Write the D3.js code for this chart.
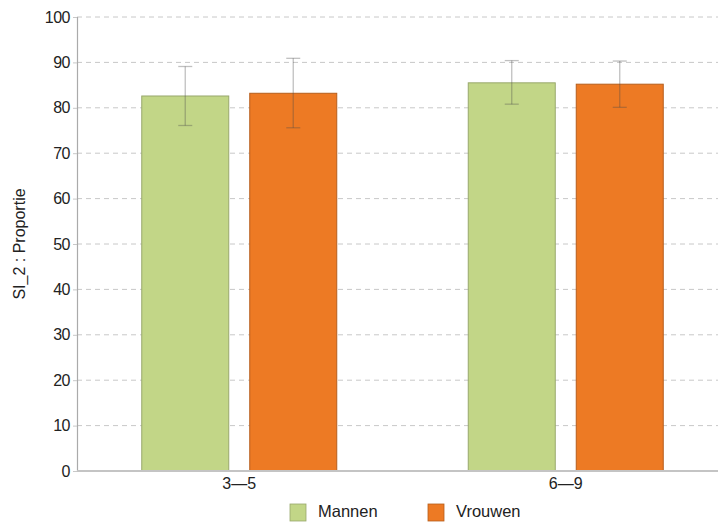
<!DOCTYPE html>
<html><head><meta charset="utf-8">
<script src="https://cdn.jsdelivr.net/npm/d3@7"></script>
<style>body{margin:0;background:#fff}svg{display:block;font-family:"Liberation Sans",Arial,sans-serif}</style>
</head><body>
<svg id="c" width="718" height="522"></svg>
<script>
const categories = ["3—5", "6—9"];
const seriesNames = ["Mannen", "Vrouwen"];
const mannen = [82.6, 85.5];
const vrouwen = [83.2, 85.2];
const mannenLow = [76.1, 80.8];
const mannenHigh = [89.1, 90.4];
const vrouwenLow = [75.6, 80.1];
const vrouwenHigh = [90.9, 90.3];
const yTicks = [0,10,20,30,40,50,60,70,80,90,100];
const yLabel = "SI_2 : Proportie";

const fills = ["#c2d687", "#ed7a24"];
const strokes = ["#98a86c", "#b65e1c"];

const svg = d3.select("#c");
const x0 = d3.scaleBand().domain(categories).range([76, 729]).paddingInner(0).paddingOuter(0);
const y = d3.scaleLinear().domain([0, 100]).range([471, 17]);
const x1 = d3.scaleBand().domain(seriesNames).range([0, 196]).paddingInner(20/108).paddingOuter(0);

// grid
svg.append("g").selectAll("line").data(yTicks.filter(d => d > 0)).join("line")
  .attr("x1", 77).attr("x2", 718)
  .attr("y1", d => y(d)).attr("y2", d => y(d))
  .attr("stroke", "#c8c8c8").attr("stroke-dasharray", "5,4").attr("stroke-width", 1);

// y axis
const yAxis = svg.append("g").attr("transform", "translate(77,0)")
  .call(d3.axisLeft(y).tickValues(yTicks).tickSize(4).tickPadding(3));
yAxis.select(".domain").attr("stroke", "#aaa").attr("stroke-width", 1.2);
yAxis.selectAll(".tick line").attr("stroke", "#c8c8c8");
yAxis.selectAll("text").attr("font-size", 16).attr("fill", "#222").attr("letter-spacing", "-0.5");

// bars
const data = categories.map((c, i) => ({
  cat: c,
  vals: [
    {s: seriesNames[0], v: mannen[i], lo: mannenLow[i], hi: mannenHigh[i], k: 0},
    {s: seriesNames[1], v: vrouwen[i], lo: vrouwenLow[i], hi: vrouwenHigh[i], k: 1}
  ]
}));
const groups = svg.append("g").selectAll("g").data(data).join("g")
  .attr("transform", d => `translate(${x0(d.cat) + (x0.bandwidth() - 196) / 2},0)`);
groups.selectAll("rect").data(d => d.vals).join("rect")
  .attr("x", d => x1(d.s) + 0.5).attr("width", x1.bandwidth() - 1)
  .attr("y", d => y(d.v)).attr("height", d => y(0) - y(d.v))
  .attr("fill", d => fills[d.k]).attr("stroke", d => strokes[d.k]).attr("stroke-width", 1);

// error bars
const eb = groups.selectAll("g.eb").data(d => d.vals).join("g").attr("class", "eb")
  .attr("stroke", "#4a4a4a").attr("stroke-opacity", 0.35).attr("stroke-width", 1.3);
eb.append("line").attr("x1", d => x1(d.s) + x1.bandwidth() / 2).attr("x2", d => x1(d.s) + x1.bandwidth() / 2)
  .attr("y1", d => y(d.lo)).attr("y2", d => y(d.hi));
eb.append("line").attr("x1", d => x1(d.s) + x1.bandwidth() / 2 - 7).attr("x2", d => x1(d.s) + x1.bandwidth() / 2 + 7)
  .attr("y1", d => y(d.hi)).attr("y2", d => y(d.hi));
eb.append("line").attr("x1", d => x1(d.s) + x1.bandwidth() / 2 - 7).attr("x2", d => x1(d.s) + x1.bandwidth() / 2 + 7)
  .attr("y1", d => y(d.lo)).attr("y2", d => y(d.lo));

// x axis
svg.append("line").attr("x1", 77).attr("x2", 718).attr("y1", y(0)).attr("y2", y(0))
  .attr("stroke", "#c4c4c4").attr("stroke-width", 2);
svg.append("g").selectAll("text").data(categories).join("text")
  .attr("x", d => x0(d) + x0.bandwidth() / 2).attr("y", 488.5)
  .attr("text-anchor", "middle").attr("font-size", 16).attr("fill", "#222")
  .text(d => d);

// y label
svg.append("text").attr("transform", "translate(25,244) rotate(-90)")
  .attr("text-anchor", "middle").attr("font-size", 16).attr("fill", "#222").text(yLabel);

// legend
const legX = [290, 428];
const leg = svg.append("g").selectAll("g").data(seriesNames).join("g")
  .attr("transform", (d, i) => `translate(${legX[i]},504)`);
leg.append("rect").attr("width", 16).attr("height", 17)
  .attr("fill", (d, i) => fills[i]).attr("stroke", (d, i) => strokes[i]).attr("stroke-width", 0.8);
leg.append("text").attr("x", 28).attr("y", 12.5).attr("font-size", 16.5).attr("fill", "#222").text(d => d);
</script>
</body></html>
